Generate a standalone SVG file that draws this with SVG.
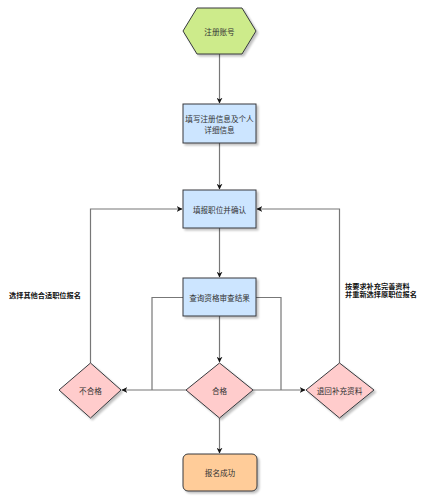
<svg xmlns="http://www.w3.org/2000/svg" width="425" height="500" viewBox="0 0 425 500">
<defs>
<filter id="sh" x="-20%" y="-20%" width="150%" height="150%">
<feGaussianBlur in="SourceAlpha" stdDeviation="1.2"/>
<feOffset dx="2" dy="2" result="b"/>
<feComponentTransfer><feFuncA type="linear" slope="0.25"/></feComponentTransfer>
<feMerge><feMergeNode/><feMergeNode in="SourceGraphic"/></feMerge>
</filter>
<marker id="ar" viewBox="0 0 10 10" refX="9" refY="5" markerWidth="6" markerHeight="6" orient="auto" markerUnits="userSpaceOnUse">
<path d="M0,0 L10,5 L0,10 L3,5 Z" fill="#111"/>
</marker>
<style>
.n{stroke:#36393d;stroke-width:1;filter:url(#sh)}
.t{font-family:"Noto Sans CJK SC","Noto Sans",sans-serif;font-size:7.6px;fill:#333;text-anchor:middle;dominant-baseline:central}
.l{font-family:"Noto Sans CJK SC","Noto Sans",sans-serif;font-size:7.2px;fill:#111;font-weight:bold}
.e{fill:none;stroke:#777;stroke-width:1.2}
.a{marker-end:url(#ar)}
</style>
</defs>
<rect width="425" height="500" fill="#fff"/>
<g id="connectors">
<path class="e a" d="M219.5,54 V103"/>
<path class="e a" d="M219.5,143 V189"/>
<path class="e a" d="M219.5,228 V277"/>
<path class="e a" d="M219.5,316 V362"/>
<path class="e a" d="M219.5,418 V453"/>
<path class="e a" d="M90.5,363 V209 H182"/>
<path class="e a" d="M339.5,363 V209 H257"/>
<path class="e a" d="M186,390 H122"/>
<path class="e" d="M183,297.5 H152 V390"/>
<path class="e a" d="M253,390 H305"/>
<path class="e" d="M256,297.5 H281 V390"/>
<text class="l" x="9" y="298">选择其他合适职位报名</text>
<text class="l" x="345" y="288.5">按要求补充完善资料</text>
<text class="l" x="345" y="297">并重新选择原职位报名</text>
</g>
<g id="start">
<polygon class="n" fill="#cdeb8b" points="183,31 197,8 242,8 256,31 242,54 197,54"/>
<text class="t" x="219.5" y="31">注册账号</text>
</g>
<g id="fill-info">
<rect class="n" fill="#cce5ff" x="183" y="104" width="73" height="39"/>
<text class="t" x="219.5" y="118.5">填写注册信息及个人</text>
<text class="t" x="219.5" y="129">详细信息</text>
</g>
<g id="apply">
<rect class="n" fill="#cce5ff" x="183" y="190" width="73" height="38"/>
<text class="t" x="219.5" y="209">填报职位并确认</text>
</g>
<g id="query">
<rect class="n" fill="#cce5ff" x="183" y="278" width="73" height="38"/>
<text class="t" x="219.5" y="297">查询资格审查结果</text>
</g>
<g id="fail">
<polygon class="n" fill="#ffcccc" points="59,390 90.5,363 121,390 90.5,418"/>
<text class="t" x="90.5" y="390">不合格</text>
</g>
<g id="pass">
<polygon class="n" fill="#ffcccc" points="186,390 219.5,363 253,390 219.5,418"/>
<text class="t" x="219.5" y="390">合格</text>
</g>
<g id="return">
<polygon class="n" fill="#ffcccc" points="306,390 339.5,363 374,390 339.5,418"/>
<text class="t" x="339.5" y="390">退回补充资料</text>
</g>
<g id="success">
<rect class="n" fill="#ffcc99" x="183" y="454" width="74" height="37" rx="5"/>
<text class="t" x="220" y="472.5">报名成功</text>
</g>
</svg>
